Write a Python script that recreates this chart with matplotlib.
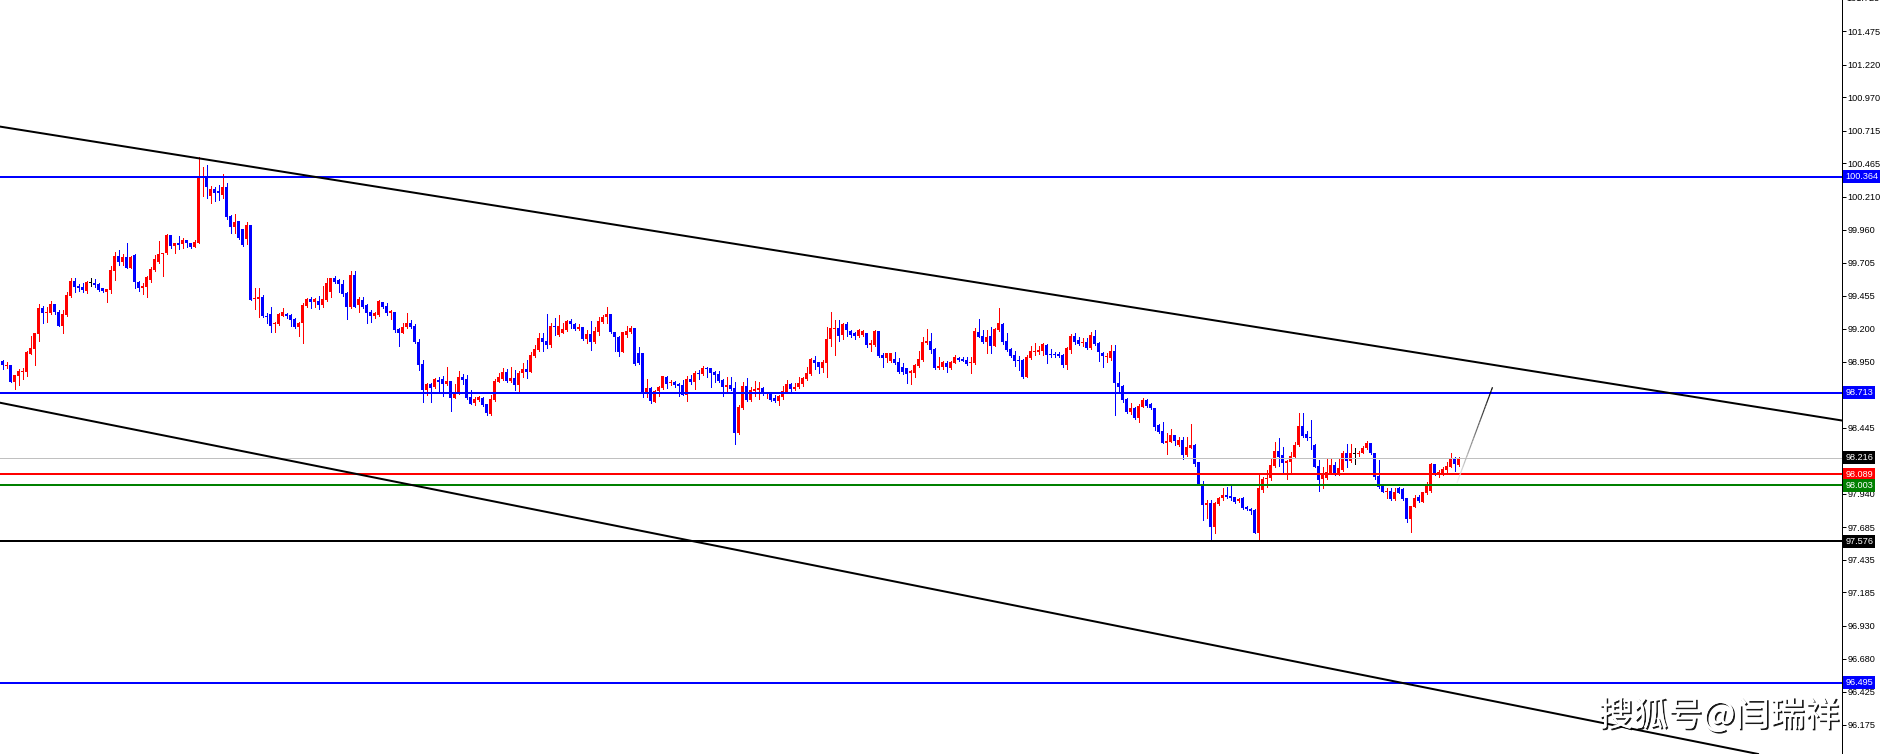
import matplotlib
matplotlib.use('Agg')
import matplotlib.pyplot as plt
import matplotlib.patheffects as pe
from matplotlib.collections import LineCollection
import numpy as np

# ---------------- data ----------------
opens = [98.954, 98.913, 98.923, 98.796, 98.842, 98.872, 98.872, 99.012, 99.048, 99.163,
         99.359, 99.324, 99.321, 99.387, 99.331, 99.224, 99.306, 99.451, 99.566, 99.530,
         99.522, 99.492, 99.555, 99.553, 99.543, 99.510, 99.484, 99.497, 99.645, 99.757,
         99.714, 99.752, 99.668, 99.765, 99.556, 99.510, 99.522, 99.573, 99.650, 99.714,
         99.770, 99.778, 99.915, 99.836, 99.854, 99.846, 99.880, 99.854, 99.828, 99.859,
         100.351, 100.364, 100.219, 100.267, 100.252, 100.224, 100.288, 100.063, 99.982, 100.025,
         99.966, 99.885, 99.994, 99.431, 99.431, 99.446, 99.301, 99.313, 99.239, 99.237,
         99.301, 99.313, 99.306, 99.273, 99.217, 99.242, 99.377, 99.428, 99.408, 99.415,
         99.382, 99.420, 99.484, 99.591, 99.573, 99.543, 99.472, 99.370, 99.612, 99.382,
         99.420, 99.382, 99.331, 99.301, 99.306, 99.403, 99.375, 99.319, 99.326, 99.199,
         99.171, 99.217, 99.242, 99.222, 99.102, 98.929, 98.732, 98.776, 98.758, 98.809,
         98.814, 98.776, 98.801, 98.674, 98.707, 98.832, 98.817, 98.676, 98.630, 98.656,
         98.669, 98.625, 98.549, 98.656, 98.796, 98.817, 98.868, 98.801, 98.827, 98.771,
         98.860, 98.891, 98.873, 98.993, 99.039, 99.133, 99.107, 99.077, 99.225, 99.153,
         99.171, 99.192, 99.260, 99.235, 99.197, 99.212, 99.123, 99.161, 99.097, 99.179,
         99.255, 99.288, 99.314, 99.174, 99.135, 99.026, 99.153, 99.179, 99.204, 99.018,
         99.018, 98.712, 98.750, 98.643, 98.725, 98.745, 98.835, 98.784, 98.794, 98.778,
         98.771, 98.694, 98.817, 98.796, 98.865, 98.855, 98.903, 98.903, 98.873, 98.852,
         98.809, 98.758, 98.771, 98.745, 98.401, 98.592, 98.763, 98.656, 98.727, 98.732,
         98.750, 98.707, 98.702, 98.669, 98.651, 98.682, 98.720, 98.778, 98.740, 98.753,
         98.779, 98.817, 98.855, 98.963, 98.945, 98.904, 98.942, 99.123, 99.197, 99.205,
         99.154, 99.238, 99.184, 99.167, 99.146, 99.154, 99.167, 99.077, 99.077, 99.184,
         99.001, 98.980, 98.955, 98.968, 98.950, 98.906, 98.899, 98.860, 98.866, 98.917,
         98.963, 99.090, 99.108, 99.047, 98.904, 98.906, 98.937, 98.899, 98.942, 98.975,
         98.973, 98.963, 98.937, 98.937, 99.174, 99.146, 99.098, 99.146, 99.072, 99.192,
         99.238, 99.108, 99.047, 99.001, 98.963, 98.963, 98.835, 98.975, 99.026, 99.021,
         99.031, 99.077, 99.008, 99.008, 99.008, 99.001, 98.924, 99.039, 99.146, 99.116,
         99.090, 99.103, 99.052, 99.149, 99.095, 99.019, 98.983, 98.976, 99.032, 98.785,
         98.764, 98.665, 98.568, 98.593, 98.522, 98.606, 98.657, 98.624, 98.593, 98.466,
         98.420, 98.331, 98.338, 98.389, 98.313, 98.351, 98.236, 98.292, 98.313, 98.180,
         98.007, 97.854, 97.872, 97.688, 97.859, 97.905, 97.931, 97.926, 97.913, 97.887,
         97.910, 97.841, 97.823, 97.815, 97.642, 97.969, 98.050, 98.058, 98.155, 98.267,
         98.236, 98.175, 98.185, 98.224, 98.313, 98.458, 98.397, 98.377, 98.313, 98.155,
         98.050, 98.058, 98.101, 98.160, 98.091, 98.122, 98.249, 98.193, 98.243, 98.241,
         98.254, 98.292, 98.326, 98.249, 98.078, 98.007, 97.956, 97.961, 97.897, 97.982,
         97.976, 97.905, 97.747, 97.841, 97.918, 97.880, 97.943, 97.964, 98.167, 98.083,
         98.096, 98.122, 98.147, 98.216, 98.160]
highs = [98.962, 98.944, 98.923, 98.847, 98.890, 98.898, 99.030, 99.145, 99.168, 99.390,
         99.375, 99.370, 99.413, 99.387, 99.344, 99.344, 99.484, 99.591, 99.591, 99.540,
         99.548, 99.566, 99.591, 99.581, 99.553, 99.510, 99.502, 99.681, 99.790, 99.806,
         99.772, 99.857, 99.757, 99.770, 99.566, 99.553, 99.604, 99.670, 99.765, 99.872,
         99.783, 99.925, 99.915, 99.857, 99.910, 99.892, 99.880, 99.854, 99.880, 100.512,
         100.441, 100.453, 100.293, 100.288, 100.300, 100.384, 100.313, 100.071, 100.078, 100.025,
         99.966, 100.020, 99.994, 99.510, 99.515, 99.459, 99.324, 99.370, 99.252, 99.319,
         99.357, 99.324, 99.313, 99.280, 99.250, 99.395, 99.433, 99.446, 99.433, 99.454,
         99.528, 99.591, 99.591, 99.604, 99.579, 99.573, 99.484, 99.642, 99.642, 99.446,
         99.446, 99.390, 99.344, 99.331, 99.420, 99.408, 99.395, 99.344, 99.326, 99.209,
         99.242, 99.319, 99.268, 99.237, 99.122, 98.962, 98.784, 98.784, 98.822, 98.835,
         98.840, 98.906, 98.801, 98.776, 98.878, 98.852, 98.847, 98.732, 98.676, 98.687,
         98.676, 98.625, 98.694, 98.814, 98.865, 98.898, 98.891, 98.911, 98.886, 98.878,
         98.937, 98.962, 99.026, 99.077, 99.171, 99.171, 99.311, 99.243, 99.286, 99.306,
         99.248, 99.268, 99.273, 99.243, 99.235, 99.217, 99.192, 99.260, 99.217, 99.293,
         99.306, 99.365, 99.314, 99.179, 99.146, 99.179, 99.222, 99.225, 99.204, 99.064,
         99.018, 98.814, 98.758, 98.732, 98.763, 98.840, 98.840, 98.809, 98.801, 98.789,
         98.809, 98.840, 98.847, 98.878, 98.886, 98.916, 98.911, 98.903, 98.880, 98.878,
         98.814, 98.835, 98.829, 98.796, 98.618, 98.796, 98.822, 98.758, 98.801, 98.796,
         98.758, 98.720, 98.702, 98.694, 98.694, 98.763, 98.809, 98.789, 98.784, 98.835,
         98.830, 98.906, 98.980, 98.996, 98.950, 98.963, 99.218, 99.327, 99.269, 99.269,
         99.248, 99.251, 99.192, 99.179, 99.197, 99.192, 99.172, 99.116, 99.192, 99.184,
         99.014, 99.019, 99.019, 99.026, 98.980, 98.937, 98.904, 98.886, 98.932, 99.031,
         99.141, 99.200, 99.167, 99.052, 98.988, 98.955, 98.957, 98.955, 99.001, 98.988,
         98.988, 98.988, 98.988, 99.205, 99.274, 99.192, 99.192, 99.218, 99.210, 99.363,
         99.243, 99.167, 99.052, 99.031, 98.996, 98.968, 99.001, 99.072, 99.090, 99.070,
         99.095, 99.085, 99.044, 99.026, 99.026, 99.008, 99.059, 99.161, 99.167, 99.136,
         99.128, 99.128, 99.179, 99.192, 99.103, 99.027, 99.014, 99.078, 99.078, 98.874,
         98.772, 98.670, 98.631, 98.601, 98.624, 98.670, 98.665, 98.631, 98.598, 98.473,
         98.491, 98.402, 98.435, 98.389, 98.377, 98.377, 98.377, 98.471, 98.320, 98.180,
         98.037, 97.892, 97.892, 97.880, 97.918, 97.982, 97.995, 98.015, 97.918, 97.905,
         97.918, 97.846, 97.828, 97.821, 98.083, 98.071, 98.122, 98.203, 98.333, 98.369,
         98.300, 98.198, 98.262, 98.338, 98.560, 98.560, 98.420, 98.504, 98.320, 98.198,
         98.147, 98.203, 98.206, 98.185, 98.203, 98.267, 98.318, 98.318, 98.292, 98.267,
         98.305, 98.343, 98.331, 98.254, 98.198, 98.012, 97.982, 97.982, 97.982, 97.989,
         97.982, 97.910, 97.846, 97.931, 97.931, 97.956, 98.027, 98.172, 98.167, 98.122,
         98.147, 98.185, 98.249, 98.224, 98.224]
lows = [98.890, 98.898, 98.796, 98.742, 98.770, 98.821, 98.839, 99.007, 98.923, 99.107,
        99.247, 99.255, 99.311, 99.311, 99.224, 99.171, 99.298, 99.446, 99.479, 99.489,
        99.479, 99.472, 99.530, 99.522, 99.492, 99.484, 99.408, 99.477, 99.573, 99.688,
        99.688, 99.668, 99.663, 99.510, 99.489, 99.464, 99.446, 99.561, 99.645, 99.706,
        99.607, 99.772, 99.821, 99.783, 99.808, 99.816, 99.828, 99.816, 99.823, 99.859,
        100.216, 100.203, 100.165, 100.178, 100.186, 100.203, 100.040, 99.936, 99.936, 99.885,
        99.834, 99.849, 99.420, 99.349, 99.293, 99.293, 99.247, 99.178, 99.178, 99.229,
        99.296, 99.280, 99.224, 99.204, 99.148, 99.094, 99.370, 99.362, 99.370, 99.349,
        99.364, 99.415, 99.441, 99.553, 99.484, 99.451, 99.275, 99.357, 99.364, 99.331,
        99.357, 99.247, 99.255, 99.280, 99.301, 99.357, 99.306, 99.275, 99.173, 99.069,
        99.166, 99.204, 99.204, 99.094, 98.885, 98.643, 98.694, 98.643, 98.750, 98.720,
        98.689, 98.771, 98.574, 98.669, 98.702, 98.778, 98.664, 98.625, 98.618, 98.651,
        98.610, 98.544, 98.544, 98.651, 98.791, 98.809, 98.796, 98.796, 98.732, 98.727,
        98.829, 98.822, 98.868, 98.988, 99.031, 99.033, 99.051, 99.064, 99.153, 99.146,
        99.166, 99.184, 99.209, 99.192, 99.192, 99.115, 99.089, 99.039, 99.089, 99.153,
        99.243, 99.248, 99.171, 99.033, 98.995, 99.021, 99.141, 99.171, 98.924, 98.929,
        98.682, 98.682, 98.636, 98.638, 98.689, 98.738, 98.750, 98.771, 98.758, 98.689,
        98.694, 98.651, 98.778, 98.740, 98.817, 98.847, 98.835, 98.758, 98.796, 98.796,
        98.687, 98.720, 98.732, 98.317, 98.396, 98.587, 98.651, 98.651, 98.689, 98.664,
        98.694, 98.674, 98.651, 98.643, 98.618, 98.664, 98.715, 98.720, 98.732, 98.745,
        98.766, 98.810, 98.848, 98.894, 98.860, 98.868, 98.830, 99.072, 99.001, 99.110,
        99.121, 99.149, 99.141, 99.123, 99.141, 99.149, 99.065, 99.031, 99.072, 98.988,
        98.912, 98.945, 98.950, 98.932, 98.866, 98.855, 98.789, 98.779, 98.830, 98.912,
        98.957, 99.082, 99.019, 98.894, 98.891, 98.891, 98.868, 98.891, 98.937, 98.955,
        98.952, 98.924, 98.860, 98.932, 99.136, 99.090, 99.014, 99.014, 99.070, 99.187,
        99.085, 99.034, 98.988, 98.919, 98.886, 98.822, 98.830, 98.970, 99.001, 99.008,
        99.001, 98.942, 98.983, 98.988, 98.983, 98.906, 98.894, 99.014, 99.085, 99.077,
        99.072, 99.044, 99.047, 99.077, 98.957, 98.912, 98.950, 98.963, 98.542, 98.721,
        98.644, 98.560, 98.550, 98.512, 98.491, 98.601, 98.601, 98.588, 98.428, 98.407,
        98.326, 98.244, 98.333, 98.313, 98.305, 98.203, 98.229, 98.287, 98.155, 98.007,
        97.739, 97.752, 97.582, 97.637, 97.854, 97.892, 97.905, 97.892, 97.867, 97.880,
        97.823, 97.815, 97.785, 97.637, 97.582, 97.956, 97.995, 98.045, 98.147, 98.155,
        98.091, 98.050, 98.091, 98.218, 98.305, 98.377, 98.351, 98.280, 98.142, 97.964,
        97.982, 98.050, 98.091, 98.083, 98.083, 98.116, 98.147, 98.185, 98.167, 98.229,
        98.249, 98.280, 98.244, 98.050, 97.987, 97.951, 97.905, 97.892, 97.892, 97.943,
        97.892, 97.721, 97.650, 97.836, 97.874, 97.874, 97.938, 97.956, 98.083, 98.071,
        98.083, 98.091, 98.142, 98.116, 98.155]
closes = [98.923, 98.923, 98.796, 98.847, 98.880, 98.880, 99.025, 99.051, 99.168, 99.359,
          99.321, 99.329, 99.390, 99.329, 99.224, 99.313, 99.459, 99.566, 99.522, 99.515,
          99.497, 99.556, 99.555, 99.538, 99.500, 99.489, 99.502, 99.650, 99.757, 99.714,
          99.752, 99.668, 99.752, 99.561, 99.510, 99.530, 99.594, 99.660, 99.734, 99.772,
          99.783, 99.920, 99.834, 99.857, 99.841, 99.880, 99.854, 99.828, 99.867, 100.364,
          100.364, 100.282, 100.267, 100.242, 100.237, 100.288, 100.058, 99.982, 100.017, 99.892,
          99.841, 99.994, 99.420, 99.438, 99.441, 99.301, 99.288, 99.224, 99.247, 99.313,
          99.326, 99.301, 99.268, 99.217, 99.242, 99.382, 99.428, 99.408, 99.428, 99.382,
          99.428, 99.553, 99.591, 99.561, 99.543, 99.464, 99.370, 99.612, 99.370, 99.426,
          99.370, 99.324, 99.301, 99.324, 99.413, 99.370, 99.319, 99.336, 99.191, 99.171,
          99.217, 99.242, 99.217, 99.102, 98.923, 98.732, 98.776, 98.750, 98.814, 98.796,
          98.776, 98.801, 98.674, 98.707, 98.832, 98.809, 98.674, 98.625, 98.661, 98.676,
          98.618, 98.554, 98.664, 98.804, 98.829, 98.868, 98.804, 98.827, 98.771, 98.865,
          98.896, 98.873, 99.003, 99.046, 99.133, 99.102, 99.077, 99.225, 99.217, 99.225,
          99.197, 99.260, 99.235, 99.197, 99.217, 99.123, 99.161, 99.102, 99.186, 99.260,
          99.293, 99.314, 99.179, 99.135, 99.026, 99.179, 99.184, 99.209, 98.929, 98.937,
          98.712, 98.750, 98.651, 98.727, 98.758, 98.840, 98.778, 98.794, 98.768, 98.763,
          98.694, 98.814, 98.791, 98.865, 98.852, 98.903, 98.893, 98.865, 98.847, 98.804,
          98.758, 98.771, 98.740, 98.406, 98.605, 98.763, 98.656, 98.732, 98.738, 98.750,
          98.707, 98.712, 98.656, 98.651, 98.689, 98.727, 98.778, 98.740, 98.758, 98.789,
          98.822, 98.866, 98.968, 98.942, 98.906, 98.950, 99.121, 99.205, 99.205, 99.149,
          99.238, 99.192, 99.154, 99.149, 99.192, 99.187, 99.077, 99.090, 99.184, 98.996,
          98.980, 99.014, 99.019, 98.942, 98.873, 98.873, 98.855, 98.878, 98.924, 98.970,
          99.103, 99.108, 99.039, 98.899, 98.917, 98.945, 98.906, 98.945, 98.988, 98.963,
          98.957, 98.932, 98.945, 99.184, 99.136, 99.098, 99.141, 99.072, 99.200, 99.243,
          99.103, 99.039, 98.996, 98.957, 98.957, 98.830, 98.983, 99.031, 99.034, 99.039,
          99.082, 99.001, 99.001, 98.998, 98.996, 98.924, 99.052, 99.146, 99.098, 99.085,
          99.098, 99.052, 99.154, 99.082, 99.021, 98.996, 98.993, 99.032, 98.785, 98.759,
          98.657, 98.568, 98.593, 98.517, 98.614, 98.657, 98.611, 98.593, 98.453, 98.415,
          98.331, 98.346, 98.389, 98.346, 98.351, 98.236, 98.300, 98.313, 98.167, 98.007,
          97.854, 97.872, 97.688, 97.867, 97.910, 97.931, 97.918, 97.905, 97.880, 97.900,
          97.833, 97.821, 97.810, 97.642, 97.982, 98.050, 98.063, 98.160, 98.267, 98.224,
          98.172, 98.193, 98.229, 98.313, 98.458, 98.382, 98.369, 98.364, 98.147, 98.045,
          98.083, 98.109, 98.160, 98.091, 98.134, 98.249, 98.193, 98.249, 98.243, 98.254,
          98.292, 98.326, 98.249, 98.065, 97.995, 97.956, 97.964, 97.897, 97.956, 97.948,
          97.897, 97.744, 97.846, 97.910, 97.885, 97.951, 98.002, 98.167, 98.091, 98.104,
          98.127, 98.155, 98.216, 98.167, 98.216]

level_values = [100.364, 98.713, 98.216, 98.089, 98.003, 97.576, 96.495]
level_colors = ['#0000FF', '#0000FF', '#C0C0C0', '#FF0000', '#008000', '#000000', '#0000FF']
box_colors = ['#0000FF', '#0000FF', '#000000', '#FF0000', '#008000', '#000000', '#0000FF']
level_px = [2, 2, 1, 2, 2, 2, 2]

upper_channel = [(0, 100.744), (450, 98.548)]
lower_channel = [(0, 98.632), (450, 95.882)]
projection = [(363.6, 98.022), (372.5, 98.754)]

tick_values = [101.475, 101.220, 100.970, 100.715, 100.465, 100.210, 99.960, 99.705,
               99.455, 99.200, 98.950, 98.695, 98.445, 98.190, 97.940, 97.685, 97.435,
               97.185, 96.930, 96.680, 96.425, 96.175]
hidden_tick_labels = [98.695, 98.190]   # covered by the price boxes in the reference
top_cut_tick = 101.725
watermark = "搜狐号@闫瑞祥"

# ---------------- figure ----------------
W, H, DPI = 1880, 754, 100
PX = 72.0 / DPI
FS = 6.6
fig = plt.figure(figsize=(W / DPI, H / DPI), dpi=DPI)
fig.patch.set_facecolor('white')
plot_w = 1842
ax = fig.add_axes([0, 0, plot_w / W, 1])
ax.set_facecolor('white')

n = len(opens)
idx = np.arange(n)
ax.set_xlim(-2.5 / 4, (plot_w - 2.5) / 4)
ax.set_ylim(95.950, 101.715)

o = np.array(opens); h = np.array(highs); l = np.array(lows); c = np.array(closes)
cols = np.where(c > o, '#FF0000', np.where(c < o, '#0000FF', '#000000'))
ax.vlines(idx, l, h, colors=cols, lw=1 * PX, zorder=2, antialiased=False)
body_bottom = np.minimum(o, c)
body_h = np.maximum(np.abs(c - o), 1.0 / 130.8)
ax.bar(idx, body_h, bottom=body_bottom, width=0.75, color=cols, linewidth=0,
       zorder=2, antialiased=False)

# horizontal levels
for v, col, lw in zip(level_values, level_colors, level_px):
    ax.axhline(v, color=col, lw=lw * PX, zorder=3)

# channel lines
for line in (upper_channel, lower_channel):
    ax.axline(line[0], line[1], color='black', lw=2 * PX, zorder=3)

# projection line with fading gradient
(x0, y0), (x1, y1) = projection
t = np.linspace(0, 1, 31)
xs = x0 + (x1 - x0) * t
ys = y0 + (y1 - y0) * t
segs = [[(xs[i], ys[i]), (xs[i + 1], ys[i + 1])] for i in range(30)]
shade = [(g, g, g) for g in np.linspace(0.95, 0.0, 30)]
ax.add_collection(LineCollection(segs, colors=shade, linewidths=1.2 * PX, zorder=4))

# axes styling
for s in ('top', 'left', 'bottom'):
    ax.spines[s].set_visible(False)
ax.spines['right'].set_color('black')
ax.spines['right'].set_linewidth(1 * PX)
ax.set_xticks([])
ax.yaxis.tick_right()
ax.set_yticks(tick_values)
ax.set_yticklabels(['' if v in hidden_tick_labels else '%.3f' % v for v in tick_values])
ax.tick_params(axis='y', direction='out', length=3, width=1 * PX, pad=1,
               labelsize=FS, colors='black', labelfontfamily='Liberation Sans')
ax.annotate('%.3f' % top_cut_tick, xy=(1, top_cut_tick), xycoords=('axes fraction', 'data'),
            xytext=(3.2, 0), textcoords='offset points', ha='left', va='center',
            fontsize=FS, family='Liberation Sans', annotation_clip=False)

# price boxes on the axis
for v, bc in zip(level_values, box_colors):
    ax.annotate('%.3f' % v, xy=(1, v), xycoords=('axes fraction', 'data'),
                xytext=(2.3, 0), textcoords='offset points', ha='left', va='center',
                fontsize=FS, family='Liberation Sans', color='white',
                bbox=dict(boxstyle='square,pad=0.2', fc=bc, ec='none'),
                annotation_clip=False, zorder=10)

# watermark
fig.text(1719 / W, 1 - 716 / H, watermark, ha='center', va='center', fontsize=25,
         family=['Noto Sans CJK SC', 'DejaVu Sans'], color='white',
         path_effects=[pe.withSimplePatchShadow(offset=(1.2, -1.2), shadow_rgbFace='black', alpha=0.9),
                       pe.Normal()])

fig.savefig('out.png', dpi=DPI, facecolor='white')
